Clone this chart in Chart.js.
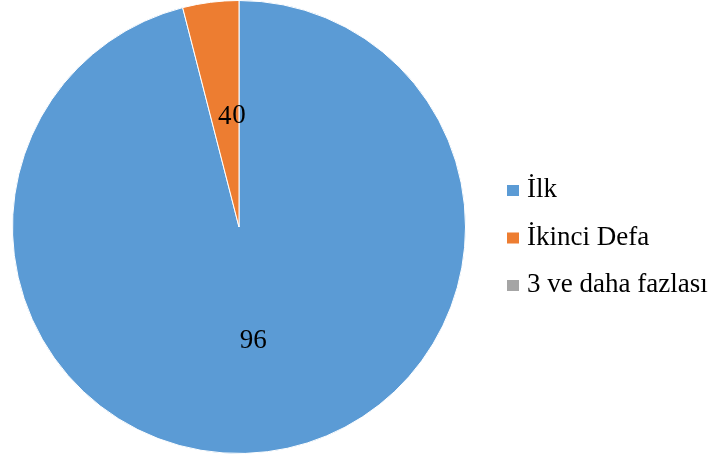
<!DOCTYPE html>
<html>
<head>
<meta charset="utf-8">
<script src="https://cdn.jsdelivr.net/npm/chart.js@4/dist/chart.umd.min.js"></script>
<style>
html,body{margin:0;padding:0;background:#fff;}
#wrap{position:relative;width:712px;height:459px;}
</style>
</head>
<body>
<div id="wrap"><canvas id="c" width="712" height="459"></canvas></div>
<script>
const categories = ["İlk", "İkinci Defa", "3 ve daha fazlası"];
const values = [96, 4, 0];
const dataLabels = ["96", "4", "0"];
const colors = ["#5B9BD5", "#ED7D31", "#A5A5A5"];

const FONT = '"Liberation Serif", "Times New Roman", serif';

const labelPlugin = {
  id: 'sliceLabels',
  afterDatasetsDraw(chart) {
    const ctx = chart.ctx;
    const meta = chart.getDatasetMeta(0);
    ctx.save();
    ctx.font = '27px ' + FONT;
    ctx.fillStyle = '#000';
    ctx.textAlign = 'center';
    ctx.textBaseline = 'middle';
    meta.data.forEach((arc, i) => {
      const p = arc.getProps(['x','y','startAngle','endAngle','outerRadius'], true);
      const mid = (p.startAngle + p.endAngle) / 2;
      const r = p.outerRadius / 2;
      ctx.fillText(dataLabels[i], p.x + Math.cos(mid) * r, p.y + Math.sin(mid) * r + 2);
    });
    ctx.restore();
  }
};

const legendPlugin = {
  id: 'customLegend',
  afterDraw(chart) {
    const ctx = chart.ctx;
    const baselines = [197, 244.5, 292];
    ctx.save();
    ctx.font = '27px ' + FONT;
    ctx.textAlign = 'left';
    ctx.textBaseline = 'alphabetic';
    categories.forEach((c, i) => {
      ctx.fillStyle = colors[i];
      ctx.fillRect(507, baselines[i] - 12, 12, 11);
      ctx.fillStyle = '#000';
      ctx.fillText(c, 527, baselines[i]);
    });
    ctx.restore();
  }
};

new Chart(document.getElementById('c'), {
  type: 'pie',
  data: {
    labels: categories,
    datasets: [{
      data: values,
      backgroundColor: colors,
      borderColor: '#ffffff',
      borderWidth: 1
    }]
  },
  options: {
    responsive: false,
    animation: false,
    layout: { padding: { left: 12, right: 246, top: 0, bottom: 5 } },
    plugins: { legend: { display: false }, tooltip: { enabled: false } }
  },
  plugins: [labelPlugin, legendPlugin]
});
</script>
</body>
</html>
